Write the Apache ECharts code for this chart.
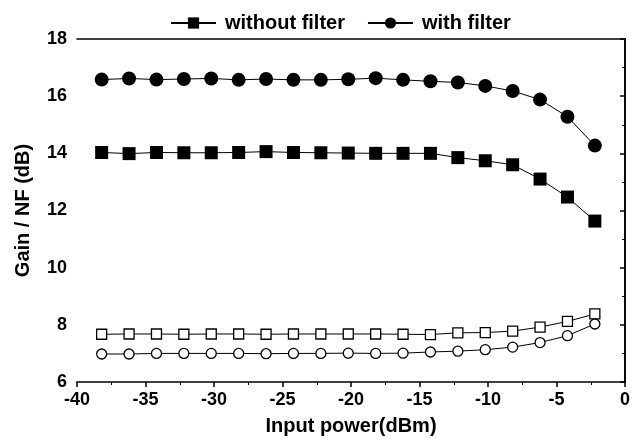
<!DOCTYPE html>
<html>
<head>
<meta charset="utf-8">
<script src="https://cdn.jsdelivr.net/npm/echarts@6/dist/echarts.min.js"></script>
<style>
  html, body { margin: 0; padding: 0; background: #fff; }
  #main { width: 640px; height: 441px; }
</style>
</head>
<body>
<div id="main"></div>
<script>
// 输入功率 (dBm)
var inputPower = [-38.2, -36.2, -34.2, -32.2, -30.2, -28.2, -26.2, -24.2, -22.2, -20.2,
                  -18.2, -16.2, -14.2, -12.2, -10.2, -8.2, -6.2, -4.2, -2.2];
// 增益
var gainWithout = [14.03, 13.99, 14.03, 14.02, 14.02, 14.03, 14.06, 14.03, 14.02, 14.01,
                   14.0, 14.0, 14.0, 13.85, 13.74, 13.6, 13.1, 12.47, 11.63];
var gainWith = [16.58, 16.62, 16.58, 16.6, 16.62, 16.57, 16.6, 16.57, 16.57, 16.59,
                16.63, 16.57, 16.52, 16.48, 16.36, 16.18, 15.88, 15.28, 14.27];
// 噪声系数
var nfWithout = [7.67, 7.68, 7.68, 7.67, 7.68, 7.68, 7.67, 7.68, 7.68, 7.68,
                 7.68, 7.67, 7.66, 7.72, 7.73, 7.78, 7.92, 8.12, 8.38];
var nfWith = [6.98, 6.98, 7.0, 7.0, 7.0, 7.0, 6.99, 7.0, 7.0, 7.01,
              7.0, 7.01, 7.05, 7.08, 7.13, 7.22, 7.38, 7.62, 8.03];

function pairs(ys) {
    return inputPower.map(function (x, i) { return [x, ys[i]]; });
}

var font = 'Liberation Sans, Arial, sans-serif';
var myChart = echarts.init(document.getElementById('main'));

function lineSeries(name, ys, symbol, size, filled) {
    return {
        name: name,
        type: 'line',
        data: pairs(ys),
        symbol: symbol,
        symbolSize: size,
        showAllSymbol: true,
        lineStyle: { color: '#000', width: 1 },
        itemStyle: filled ? { color: '#000', borderColor: '#000', borderWidth: 0 }
                          : { color: '#fff', borderColor: '#000', borderWidth: 1.3 },
        animation: false
    };
}

var option = {
    backgroundColor: '#fff',
    textStyle: { fontFamily: font },
    grid: { left: 77, right: 15, top: 39, bottom: 55 },
    legend: {
        data: ['without filter', 'with filter'],
        top: 8,
        left: 165,
        itemWidth: 45,
        itemHeight: 14,
        itemGap: 22,
        textStyle: { fontSize: 20, fontWeight: 'bold', color: '#000', fontFamily: font,
                     padding: [0, 0, 0, 4] }
    },
    xAxis: [{
        type: 'value',
        min: -40, max: 0, interval: 5,
        name: 'Input power(dBm)',
        nameLocation: 'middle',
        nameGap: 34,
        nameTextStyle: { fontSize: 20, fontWeight: 'bold', color: '#000' },
        axisLine: { lineStyle: { color: '#000', width: 1.6 } },
        axisTick: { length: 5, lineStyle: { color: '#000', width: 1.5 } },
        minorTick: { show: true, splitNumber: 2, length: 3, lineStyle: { color: '#000' } },
        axisLabel: { fontSize: 18, fontWeight: 'bold', color: '#000', margin: 9 },
        splitLine: { show: false }
    }, {
        type: 'value',
        position: 'top',
        min: -40, max: 0, interval: 5,
        axisLine: { lineStyle: { color: '#000', width: 1.6 } },
        axisTick: { show: false },
        axisLabel: { show: false },
        splitLine: { show: false }
    }],
    yAxis: [{
        type: 'value',
        min: 6, max: 18, interval: 2,
        name: 'Gain / NF (dB)',
        nameLocation: 'middle',
        nameGap: 44,
        nameTextStyle: { fontSize: 20, fontWeight: 'bold', color: '#000' },
        axisLine: { show: true, lineStyle: { color: '#000', width: 1.6 } },
        axisTick: { show: true, length: 5, lineStyle: { color: '#000', width: 1.5 } },
        minorTick: { show: true, splitNumber: 2, length: 3, lineStyle: { color: '#000' } },
        axisLabel: { fontSize: 18, fontWeight: 'bold', color: '#000', margin: 10 },
        splitLine: { show: false }
    }, {
        type: 'value',
        position: 'right',
        min: 6, max: 18, interval: 2,
        axisLine: { show: true, lineStyle: { color: '#000', width: 1.6 } },
        axisTick: { show: false },
        axisLabel: { show: false },
        splitLine: { show: false }
    }],
    series: [
        lineSeries('without filter', gainWithout, 'rect', 13, true),
        lineSeries('with filter', gainWith, 'circle', 14, true),
        lineSeries('NF without filter', nfWithout, 'rect', 10, false),
        lineSeries('NF with filter', nfWith, 'circle', 10, false)
    ]
};

myChart.setOption(option);
</script>
</body>
</html>
